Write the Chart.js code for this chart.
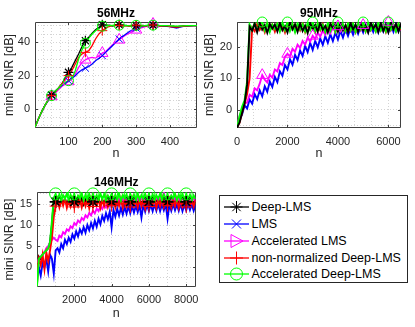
<!DOCTYPE html>
<html>
<head>
<meta charset="utf-8">
<script src="https://cdn.jsdelivr.net/npm/chart.js@4.4.1/dist/chart.umd.min.js"></script>
<style>
  html, body { margin: 0; padding: 0; background: #fff; }
  body { width: 415px; height: 327px; position: relative; overflow: hidden; font-family: 'Liberation Sans', Arial, sans-serif; }
  .panel { position: absolute; }
  canvas { display: block; }
  #legend { position: absolute; left: 219px; top: 195px; width: 187px; height: 86px; border: 1px solid #262626; background: #fff; }
  .row { position: absolute; left: 0; width: 187px; height: 16px; }
  .row svg { position: absolute; left: 3px; top: 0; }
  .row span { position: absolute; left: 31.5px; top: 0; line-height: 16px; font-size: 12.5px; color: #000; white-space: nowrap; }
</style>
</head>
<body>
<div class="panel" style="left:0;top:0"><canvas id="c56" width="205" height="166"></canvas></div>
<div class="panel" style="left:202px;top:0"><canvas id="c95" width="213" height="166"></canvas></div>
<div class="panel" style="left:0;top:166px"><canvas id="c146" width="205" height="161"></canvas></div>
<div id="legend"></div>
<script>
// series order: Deep-LMS, LMS, Accelerated LMS, non-normalized Deep-LMS, Accelerated Deep-LMS
var names = ['Deep-LMS', 'LMS', 'Accelerated LMS', 'non-normalized Deep-LMS', 'Accelerated Deep-LMS'];
var colors = ['#000000', '#0000ff', '#ff00ff', '#ff0000', '#00ff00'];
var markers = ['star', 'crossRot', 'triangle', 'cross', 'circle'];

// ---- 56MHz ----
var n56 = [1, 10, 20, 30, 40, 50, 60, 70, 80, 90,
  100, 110, 120, 130, 140, 150, 160, 170, 180, 190,
  200, 210, 220, 230, 240, 250, 260, 270, 280, 290,
  300, 310, 320, 330, 340, 350, 360, 370, 380, 390,
  400, 410, 420, 430, 440, 450, 460, 470, 480];
var deep56 = [-11, -6.5, -2, 2, 5.5, 8.5, 10.5, 12.5, 15, 18.5,
  22, 25, 29, 33, 37.5, 41, 43, 45.5, 47.5, 49,
  50.5, 50, 50.3, 49.8, 50.2, 50.5, 49.9, 50.2, 49.7, 50.1,
  50, 49.8, 50.2, 49.9, 50.1, 50.3, 50, 49.8, 50, 49.9,
  49.6, 49.5, 49.2, 49.6, 49.8, 50, 49.9, 50, 50];
var lms56 = [-11, -6.5, -2, 2, 5, 8, 10.5, 12.5, 14, 15.5,
  17, 18.5, 20, 22, 23.5, 24.5, 25.5, 27, 29, 30.5,
  32, 34, 36, 38, 40, 42, 43.5, 45, 46.5, 47.5,
  48.5, 49.2, 49.6, 50, 50.3, 50.5, 50.3, 50, 49.8, 49.6,
  49.4, 49, 48.6, 49.2, 49.6, 49.9, 50, 50, 50];
var accLms56 = [-11, -6.5, -2, 2, 5, 7.5, 9.5, 11.5, 13.5, 15,
  16.5, 18, 21, 25, 28, 29.5, 30.5, 31, 30.5, 32,
  33.5, 34.5, 36.5, 38.5, 40, 41.5, 43, 44.5, 45.5, 46.5,
  47.5, 48.3, 49, 49.6, 50.2, 51, 50.5, 50, 49.8, 49.7,
  49.5, 49.2, 49, 49.4, 49.7, 49.9, 50, 50, 50];
var nonNorm56 = [-11, -6.5, -2, 2, 5.5, 8, 10, 12.5, 15, 17.5,
  20, 23, 27, 31, 33, 34, 35, 38, 42, 45,
  47, 48.5, 49.5, 50, 50.5, 50.2, 49.8, 50, 49.6, 50.1,
  50.3, 49.9, 50, 49.8, 50.2, 50.4, 50, 49.7, 49.9, 50,
  49.5, 49.3, 49.1, 49.5, 49.7, 49.9, 50, 50, 50];
var accDeep56 = [-11, -6.5, -2, 2, 5.5, 8, 10.5, 12.5, 14.5, 16,
  17, 18, 23, 30, 35.5, 39.5, 42.5, 45, 47, 48.5,
  49.7, 50, 50, 50.2, 50, 50.3, 50, 50.1, 49.9, 50,
  50.2, 50, 49.9, 50.1, 50, 50.3, 50.1, 50, 50, 50,
  49.9, 49.8, 49.7, 49.8, 49.9, 50, 50, 50, 50];
var marks56 = [50, 100, 150, 200, 250, 300, 350];

// ---- 95MHz ----
var n95 = [0, 100, 200, 300, 400, 500, 600, 700, 800, 900,
  1000, 1100, 1200, 1300, 1400, 1500, 1600, 1700, 1800, 1900,
  2000, 2100, 2200, 2300, 2400, 2500, 2600, 2700, 2800, 2900,
  3000, 3100, 3200, 3300, 3400, 3500, 3600, 3700, 3800, 3900,
  4000, 4100, 4200, 4300, 4400, 4500, 4600, 4700, 4800, 4900,
  5000, 5100, 5200, 5300, 5400, 5500, 5600, 5700, 5800, 5900,
  6000, 6100, 6200, 6300, 6400, 6500];
var deep95 = [-5.6, -4, -1, 2, 8, 26.3, 25.1, 27.3, 24.6, 27.6,
  25.4, 26.8, 24.4, 27.2, 25.7, 27.0, 24.8, 27.5, 25.2, 26.5,
  24.5, 27.7, 25.5, 27.1, 24.7, 27.3, 25.0, 26.7, 24.3, 27.4,
  25.6, 26.9, 24.8, 27.6, 25.3, 26.6, 24.5, 27.3, 25.8, 27.2,
  24.7, 27.5, 25.1, 26.8, 24.6, 27.6, 25.4, 27.0, 24.8, 27.3,
  25.2, 26.7, 24.5, 27.6, 25.7, 27.1, 24.7, 27.4, 25.0, 26.9,
  24.6, 27.7, 25.5, 27.2, 24.8, 27.3];
var lms95 = [-5.6, -3, -1.5, 1.5, 0.5, 3.3, 2, 5, 3.4, 6.2,
  4.3, 7.5, 5.8, 9, 7.3, 10.5, 8.8, 12.2, 10.8, 14.2,
  12.8, 16, 14.3, 17.4, 15.8, 18.8, 17.1, 20.2, 18.3, 21.2,
  19.0, 21.8, 19.8, 22.6, 20.6, 23.3, 21.2, 23.9, 21.8, 24.4,
  22.3, 25.0, 22.9, 25.5, 23.4, 25.9, 23.8, 26.2, 24.1, 26.4,
  24.5, 27, 24.6, 26.9, 24.7, 27, 24.5, 27.1, 24.8, 26.9,
  24.6, 27, 24.7, 27.1, 24.8, 27];
var accLms95 = [-5.6, -2, 0, 2.2, 2.3, 4.8, 4.2, 6.8, 6.2, 8.3,
  11, 9.6, 8.7, 11.1, 10.2, 12.8, 12.2, 14.8, 14.2, 16.8,
  17.7, 17, 19.3, 18.4, 20.6, 19.6, 21.8, 20.7, 22.8, 21.6,
  23.4, 22.4, 24.4, 23.2, 25.1, 23.8, 25.7, 24.3, 26.1, 24.7,
  26.4, 24.9, 26.6, 25, 26.7, 25.1, 26.8, 25, 26.9, 25.2,
  26.8, 25.1, 27, 25.2, 26.9, 25, 27, 25.3, 26.8, 25.1,
  27.8, 25.2, 26.9, 25, 27, 25.2];
var nonNorm95 = [-5.6, -4, -1, 2, 5, 10, 26, 24.9, 27.2, 25.3,
  26.8, 24.6, 27.4, 25.5, 27.0, 24.8, 27.3, 25.1, 26.7, 24.5,
  27.5, 25.4, 27.1, 24.9, 26.9, 25.2, 27.4, 24.7, 27.0, 25.5,
  26.8, 24.6, 27.3, 25.2, 27.1, 24.8, 26.9, 25.3, 27.5, 24.7,
  27.0, 25.4, 26.8, 24.9, 27.3, 25.1, 27.2, 24.6, 26.9, 25.5,
  27.4, 24.8, 27.1, 25.3, 26.7, 24.9, 27.3, 25.2, 27.0, 24.7,
  27.4, 25.4, 26.9, 25.0, 27.2, 25.3];
var accDeep95 = [-5.6, -2, 1, 3, 9, 27, 25.3, 27.5, 24.9, 27.2,
  27.8, 25.1, 27.4, 24.7, 27.0, 25.6, 27.3, 24.8, 27.6, 25.2,
  27.8, 25.0, 27.1, 24.6, 27.4, 25.5, 27.2, 24.9, 27.5, 25.3,
  27.8, 24.8, 27.3, 25.4, 26.9, 24.7, 27.5, 25.1, 27.2, 24.8,
  27.8, 25.6, 27.0, 24.9, 27.4, 25.2, 27.3, 24.7, 27.1, 25.5,
  27.8, 24.9, 27.4, 25.3, 27.0, 24.8, 27.5, 25.2, 27.2, 24.9,
  27.8, 25.4, 27.1, 24.8, 27.3, 25.6];
var marks95 = [1000, 2000, 3000, 4000, 5000, 6000];

// ---- 146MHz ----
var n146 = [0, 100, 200, 300, 400, 500, 600, 700, 800, 900,
  1000, 1100, 1200, 1300, 1400, 1500, 1600, 1700, 1800, 1900,
  2000, 2100, 2200, 2300, 2400, 2500, 2600, 2700, 2800, 2900,
  3000, 3100, 3200, 3300, 3400, 3500, 3600, 3700, 3800, 3900,
  4000, 4100, 4200, 4300, 4400, 4500, 4600, 4700, 4800, 4900,
  5000, 5100, 5200, 5300, 5400, 5500, 5600, 5700, 5800, 5900,
  6000, 6100, 6200, 6300, 6400, 6500, 6600, 6700, 6800, 6900,
  7000, 7100, 7200, 7300, 7400, 7500, 7600, 7700, 7800, 7900,
  8000, 8100, 8200, 8300, 8400, 8500];
var deep146 = [-4, 2.5, 2, 3, 3.5, 4, 4.5, 6, 10, 16,
  15.5, 16.2, 15.0, 16.1, 15.1, 16.3, 14.9, 16.0, 15.2, 16.2,
  15.5, 15.0, 16.1, 15.1, 16.3, 14.9, 16.0, 15.2, 16.2, 15.0,
  15.5, 16.1, 15.1, 16.3, 14.9, 16.0, 15.2, 16.2, 15.0, 16.1,
  15.5, 15.1, 16.3, 14.9, 16.0, 15.2, 16.2, 15.0, 16.1, 15.1,
  15.5, 16.3, 14.9, 16.0, 15.2, 16.2, 15.0, 16.1, 15.1, 16.3,
  15.5, 14.9, 16.0, 15.2, 16.2, 15.0, 16.1, 15.1, 16.3, 14.9,
  15.5, 16.0, 15.2, 16.2, 15.0, 16.1, 15.1, 16.3, 14.9, 16.0,
  15.5, 16.2, 15.0, 16.1, 15.1, 16.0];
var lms146 = [-1, 0, -2, 1, 0, 2, -1, 3, 2, -1.5,
  4, 4.5, 3.5, 5.5, 4.5, 6.5, 5.5, 7, 6, 7.8,
  6.8, 8.5, 7.3, 9, 8, 9.5, 8.2, 10, 8.8, 10.5,
  9.2, 11, 9.6, 11.5, 10.2, 12.2, 11, 12.8, 11.4, 13.2,
  9.5, 13.6, 12, 13.9, 12.3, 14.1, 12.5, 14.3, 12.7, 14.4,
  12.8, 14.5, 13, 14.6, 13.1, 14.7, 11.8, 14.8, 13.2, 14.8,
  13.3, 14.9, 13.3, 14.9, 13.4, 15, 13.3, 14.9, 13.5, 15,
  11.5, 14.9, 13.4, 15, 13.5, 14.9, 13.4, 15, 13.3, 14.8,
  13.5, 15, 13.6, 14.9, 13.4, 14.8];
var accLms146 = [1, 2, 2.5, 3, 3.5, 4.5, 5, 5.8, 6.5, 7,
  6.5, 6.2, 7.5, 7.1, 8.3, 7.9, 9.0, 8.6, 9.7, 9.3,
  10.5, 10.0, 11.1, 10.6, 11.7, 11.2, 12.3, 11.8, 12.9, 12.3,
  13.4, 12.8, 13.9, 13.3, 14.4, 13.8, 14.9, 14.2, 15.2, 14.5,
  15.5, 15, 16, 15.2, 16.2, 15.3, 16.4, 15.4, 16.5, 15.4,
  16.6, 15.5, 16.7, 15.4, 16.6, 15.5, 16.8, 15.4, 16.7, 15.6,
  16.6, 15.5, 16.8, 15.4, 16.7, 15.6, 16.8, 15.5, 17.8, 15.5,
  16.7, 15.4, 16.8, 15.6, 16.6, 15.5, 16.8, 15.4, 16.7, 15.6,
  16.6, 15.5, 16.8, 15.4, 16.7, 15.5];
var nonNorm146 = [-1, 2, 0.5, 3, -0.5, 3.5, 1.5, 4, 7, 12,
  14.5, 16.2, 14.2, 16.0, 14.6, 16.3, 14.1, 15.8, 14.4, 16.2,
  14.3, 16.0, 14.6, 16.4, 14.2, 15.9, 14.5, 16.1, 14.0, 16.3,
  14.4, 15.9, 14.7, 16.2, 14.1, 16.0, 14.5, 16.4, 14.3, 15.8,
  14.6, 16.2, 14.2, 16.0, 14.5, 16.3, 14.1, 15.9, 14.4, 16.1,
  14.3, 16.4, 14.6, 15.9, 14.2, 16.2, 14.5, 16.0, 14.0, 16.3,
  14.4, 15.9, 14.7, 16.2, 14.1, 16.0, 14.5, 16.4, 14.3, 15.8,
  14.6, 16.2, 14.2, 16.0, 14.5, 16.3, 14.1, 15.9, 14.4, 16.1,
  14.3, 16.2, 14.6, 15.9, 14.4, 16.0];
var accDeep146 = [-4.5, 2, 2.5, 3, 3.5, 4, 4.5, 6, 11, 16.5,
  17.4, 16.0, 17.3, 15.8, 17.1, 16.2, 17.5, 15.9, 17.2, 16.1,
  17.4, 15.8, 17.0, 16.3, 17.5, 15.9, 17.2, 16.0, 17.4, 15.8,
  17.4, 16.2, 17.1, 15.9, 17.5, 16.1, 17.3, 15.8, 17.0, 16.2,
  17.4, 15.9, 17.2, 16.0, 17.5, 15.8, 17.1, 16.3, 17.3, 15.9,
  17.4, 16.1, 17.2, 15.8, 17.5, 16.0, 17.1, 16.2, 17.4, 15.9,
  17.4, 16.0, 17.3, 15.8, 17.1, 16.2, 17.5, 15.9, 17.2, 16.1,
  17.4, 15.8, 17.0, 16.3, 17.4, 15.9, 17.2, 16.0, 17.5, 15.8,
  17.4, 16.1, 17.2, 15.9, 17.0, 16.2];
var marks146 = [1000, 2000, 3000, 4000, 5000, 6000, 7000, 8000];

// tick labels
var xTicks56 = [100, 200, 300, 400], yTicks56 = [0, 20, 40];
var xTicks95 = [0, 2000, 4000, 6000], yTicks95 = [0, 10, 20];
var xTicks146 = [2000, 4000, 6000, 8000], yTicks146 = [0, 5, 10, 15];

// major ticks plus dotted minor grid between them
function gridTicks(min, max, majors, sub) {
  var minor = (majors[1] - majors[0]) / sub;
  var v = majors[0] - Math.floor((majors[0] - min) / minor + 1e-9) * minor;
  var out = [];
  for (; v <= max + 1e-9; v += minor) out.push({ value: +v.toFixed(6) });
  return out;
}

// axes box + inward ticks, MATLAB style
var framePlugin = {
  id: 'frame',
  beforeDatasetsDraw: function(chart, args, opts) {
    var a = chart.chartArea, ctx = chart.ctx;
    var xs = chart.scales.x, ys = chart.scales.y;
    var l = Math.round(a.left) + 0.5, r = Math.round(a.right) - 0.5;
    var t = Math.round(a.top) + 0.5, b = Math.round(a.bottom) - 0.5;
    ctx.save();
    ctx.strokeStyle = '#404040';
    ctx.lineWidth = 1;
    ctx.beginPath();
    ctx.rect(l, t, r - l, b - t);
    opts.xMajor.forEach(function(v) {
      var px = Math.round(xs.getPixelForValue(v)) + 0.5;
      ctx.moveTo(px, b); ctx.lineTo(px, b - 2.5);
      ctx.moveTo(px, t); ctx.lineTo(px, t + 2.5);
    });
    opts.yMajor.forEach(function(v) {
      var py = Math.round(ys.getPixelForValue(v)) + 0.5;
      ctx.moveTo(l, py); ctx.lineTo(l + 2.5, py);
      ctx.moveTo(r, py); ctx.lineTo(r - 2.5, py);
    });
    ctx.stroke();
    ctx.restore();
  }
};

Chart.defaults.font.family = "'Liberation Sans', Arial, sans-serif";
Chart.defaults.color = '#262626';

function buildChart(id, p) {
  var datasets = [];
  p.drawOrder.forEach(function(k, i) {
    var vals = p.series[k];
    datasets.push({
      type: 'line',
      data: p.n.map(function(x, j) { return { x: x, y: vals[j] }; }),
      borderColor: colors[k],
      borderWidth: p.lw,
      pointRadius: 0,
      tension: 0,
      fill: false,
      order: 100 - i
    });
    if (p.markSeries.indexOf(k) < 0) return;
    datasets.push({
      type: 'line',
      showLine: false,
      data: p.marks.map(function(x) { return { x: x, y: vals[p.n.indexOf(x)] }; }),
      pointStyle: markers[k],
      pointRadius: k === 2 ? p.mr * 1.3 : p.mr,
      pointBorderColor: colors[k],
      pointBackgroundColor: 'rgba(0,0,0,0)',
      pointBorderWidth: k === 0 ? p.starW : 1,
      clip: false,
      order: 50 - i
    });
  });

  return new Chart(document.getElementById(id), {
    type: 'line',
    data: { datasets: datasets },
    plugins: [framePlugin],
    options: {
      responsive: false,
      animation: false,
      events: [],
      layout: { padding: { left: 0, right: p.padRight, top: 0, bottom: 0 } },
      plugins: {
        legend: { display: false },
        tooltip: { enabled: false },
        title: {
          display: true,
          text: p.title,
          fullSize: false,
          color: '#000',
          font: { size: 12, weight: 'bold' },
          padding: { top: p.titleTop, bottom: p.titleBottom }
        },
        frame: { xMajor: p.xMajor, yMajor: p.yMajor }
      },
      scales: {
        x: {
          type: 'linear',
          min: p.xMin,
          max: p.xMax,
          afterBuildTicks: function(s) { s.ticks = gridTicks(p.xMin, p.xMax, p.xMajor, p.xSub); },
          afterFit: function(s) { s.height = p.xHeight; },
          ticks: {
            autoSkip: false,
            maxRotation: 0,
            padding: p.xTickPad,
            font: { size: 11 },
            color: '#262626',
            callback: function(v) { return p.xMajor.indexOf(v) >= 0 ? String(v) : ''; }
          },
          grid: { color: '#d4d4d4', drawTicks: false },
          border: { display: false, dash: [1, 2] },
          title: { display: true, text: 'n', color: '#262626', font: { size: 12.5 }, padding: { top: 0, bottom: p.xTitlePad } }
        },
        y: {
          type: 'linear',
          min: p.yMin,
          max: p.yMax,
          afterBuildTicks: function(s) { s.ticks = gridTicks(p.yMin, p.yMax, p.yMajor, p.ySub); },
          afterFit: function(s) { s.width = p.yWidth; },
          ticks: {
            autoSkip: false,
            padding: 5,
            font: { size: 11 },
            color: '#262626',
            callback: function(v) { return p.yMajor.indexOf(v) >= 0 ? String(v) : ''; }
          },
          grid: { color: '#d4d4d4', drawTicks: false },
          border: { display: false, dash: [1, 2] },
          title: { display: true, text: 'mini SINR [dB]', color: '#262626', font: { size: 12.5 }, padding: { top: p.yTitlePad, bottom: 0 } }
        }
      }
    }
  });
}

buildChart('c56', {
  title: '56MHz', n: n56, marks: marks56, markSeries: [0, 1, 2, 3, 4],
  series: [deep56, lms56, accLms56, nonNorm56, accDeep56],
  drawOrder: [2, 1, 0, 3, 4],
  xMin: 1, xMax: 480, yMin: -11.4, yMax: 52.2,
  xMajor: xTicks56, yMajor: yTicks56, xSub: 4, ySub: 4,
  yWidth: 35, xHeight: 38, padRight: 8, titleTop: 6, titleBottom: 1.6,
  xTickPad: 7, xTitlePad: 5, yTitlePad: 2.5, lw: 1.3, mr: 5, starW: 1.2
});

buildChart('c95', {
  title: '95MHz', n: n95, marks: marks95, markSeries: [2, 4],
  series: [deep95, lms95, accLms95, nonNorm95, accDeep95],
  drawOrder: [1, 2, 3, 4, 0],
  xMin: 0, xMax: 6500, yMin: -5.7, yMax: 27.8,
  xMajor: xTicks95, yMajor: yTicks95, xSub: 3, ySub: 2,
  yWidth: 35, xHeight: 38, padRight: 14, titleTop: 6, titleBottom: 1.6,
  xTickPad: 7, xTitlePad: 5, yTitlePad: 0, lw: 1.9, mr: 5, starW: 1
});

buildChart('c146', {
  title: '146MHz', n: n146, marks: marks146, markSeries: [0, 3, 4],
  series: [deep146, lms146, accLms146, nonNorm146, accDeep146],
  drawOrder: [0, 1, 2, 3, 4],
  xMin: 0, xMax: 8500, yMin: -4.7, yMax: 17.85,
  xMajor: xTicks146, yMajor: yTicks146, xSub: 2, ySub: 2,
  yWidth: 37, xHeight: 40, padRight: 6, titleTop: 9.5, titleBottom: 2.1,
  xTickPad: 6, xTitlePad: 6, yTitlePad: 2.5, lw: 1.9, mr: 6, starW: 1.6
});

// legend box (line + marker icons)
function icon(k) {
  var c = colors[k];
  var s = '<svg width="30" height="16" xmlns="http://www.w3.org/2000/svg" fill="none" stroke="' + c + '" stroke-width="1">';
  s += '<line x1="1" y1="8" x2="26" y2="8" stroke-width="1.3"/>';
  if (markers[k] === 'star') {
    s += '<path d="M7.5 8H19.5M13.5 2V14M9.3 3.8L17.7 12.2M9.3 12.2L17.7 3.8"/>';
  } else if (markers[k] === 'crossRot') {
    s += '<path d="M9 3.5L18 12.5M9 12.5L18 3.5"/>';
  } else if (markers[k] === 'triangle') {
    s += '<path d="M8 1.5L20 8L8 14.5Z"/>';
  } else if (markers[k] === 'cross') {
    s += '<path d="M7 8H20M13.5 1.5V14.5"/>';
  } else {
    s += '<circle cx="13.5" cy="8" r="6"/>';
  }
  return s + '</svg>';
}
var legend = document.getElementById('legend');
names.forEach(function(name, k) {
  var row = document.createElement('div');
  row.className = 'row';
  row.style.top = (3.3 + k * 16.75) + 'px';
  row.innerHTML = icon(k) + '<span>' + name + '</span>';
  legend.appendChild(row);
});
</script>
</body>
</html>
